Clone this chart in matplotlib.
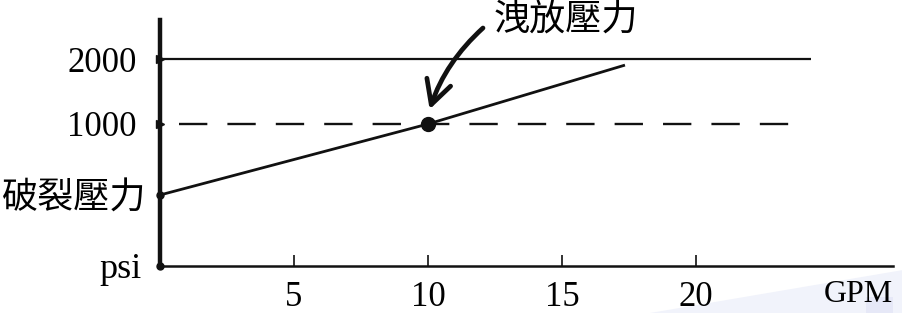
import numpy as np
import matplotlib
matplotlib.use("Agg")
import matplotlib.pyplot as plt
from matplotlib.patches import Polygon

# ---- data ----
flow_max = [0, 24.3]            # GPM extent of the max-pressure line
max_pressure = [2000, 2000]     # psi
flow_ref = [0.7, 24.0]          # GPM extent of the dashed 1000 psi line
ref_pressure = [1000, 1000]     # psi
flow_curve = [0, 10, 17.3]      # GPM
curve_pressure = [500, 1000, 1900]  # psi (cracking -> full flow)
relief_point = (10, 1000)
x_ticks = [5, 10, 15, 20]
y_ticks = [0, 500, 1000, 2000]
y_tick_labels = ["psi", "破裂壓力", "1000", "2000"]
y_marks = ["o", "o", ">", ">"]

# schematic (non-linear) pressure axis of the original drawing
psi_pts = [0, 1000, 2000, 3000]
disp_pts = [0, 142, 207, 272]

def fwd(y):
    return np.interp(y, psi_pts, disp_pts)

def inv(y):
    return np.interp(y, disp_pts, psi_pts)

W, H = 903, 313
fig = plt.figure(figsize=(W / 100, H / 100), dpi=100)
fig.patch.set_facecolor("white")

# faint watermark band in lower right corner
fig.patches.append(Polygon([[650 / W, 0], [1, 43 / H], [1, 0]], closed=True,
                           transform=fig.transFigure, facecolor="#f1f3fb",
                           edgecolor="none", zorder=-5))
fig.patches.append(Polygon([[866 / W, 0], [893 / W, 0], [893 / W, 16 / H], [866 / W, 16 / H]],
                           closed=True, transform=fig.transFigure, facecolor="#e6e8f7",
                           edgecolor="none", zorder=-5))

left, right, bottom_px, top_px = 160, 893, 266, 20
ax = fig.add_axes([left / W, (H - bottom_px) / H, (right - left) / W, (bottom_px - top_px) / H])
ax.patch.set_alpha(0)
ax.set_yscale("function", functions=(fwd, inv))
x_per_px = 1 / 26.8
ax.set_xlim(0, (right - left) * x_per_px)
ax.set_ylim(0, inv(bottom_px - top_px))

ink = "#111111"
ax.plot(flow_max, max_pressure, color=ink, lw=1.6, solid_capstyle="butt")
dl, = ax.plot(flow_ref, ref_pressure, color=ink, lw=1.7)
dl.set_dashes((12, 8.5))
ax.plot(flow_curve, curve_pressure, color=ink, lw=2.0)
ax.plot([relief_point[0]], [relief_point[1]], "o", color=ink, ms=10)

# small marks on the y axis
for yv, mk in zip(y_ticks, y_marks):
    ax.plot([0], [yv], mk, color=ink, ms=6 if mk == ">" else 5, clip_on=False, zorder=5)

for s in ["top", "right"]:
    ax.spines[s].set_visible(False)
ax.spines["left"].set_linewidth(3.2)
ax.spines["left"].set_color(ink)
ax.spines["bottom"].set_linewidth(1.8)
ax.spines["bottom"].set_color(ink)

ax.set_xticks(x_ticks)
ax.set_xticklabels([str(v) for v in x_ticks], family="Liberation Serif", fontsize=25)
ax.tick_params(axis="x", direction="in", length=8, width=1.2, color=ink, pad=11)

ax.set_yticks(y_ticks)
ax.set_yticklabels(y_tick_labels)
ax.yaxis.set_minor_locator(matplotlib.ticker.NullLocator())
ax.xaxis.set_minor_locator(matplotlib.ticker.NullLocator())
ax.tick_params(axis="y", length=0)
pads = [13, 10, 17, 17]
for tick, lab, p in zip(ax.yaxis.get_major_ticks(), y_tick_labels, pads):
    tick.set_pad(p)
    if lab == "破裂壓力":
        tick.label1.set_fontfamily(["Noto Sans CJK TC", "DejaVu Sans"])
        tick.label1.set_fontsize(26)
        tick.label1.set_fontweight("light")
    else:
        tick.label1.set_fontfamily("Liberation Serif")
        tick.label1.set_fontsize(25 if lab != "psi" else 26)

ax.text(1.0, -0.115, "GPM", transform=ax.transAxes, ha="right", va="center",
        family="Liberation Serif", fontsize=23)

fig.text(566 / W, 1 - 21 / H, "洩放壓力", ha="center", va="center",
         family=["Noto Sans CJK TC", "DejaVu Sans"], fontsize=26, fontweight="light")

ax.annotate("", xy=(9.9, 1000), xycoords="data",
            xytext=(483, H - 28), textcoords="figure pixels",
            arrowprops=dict(arrowstyle="->,head_length=0.85,head_width=0.45",
                            connectionstyle="arc3,rad=0.15", color=ink, lw=3.4,
                            mutation_scale=20, shrinkA=0, shrinkB=11))

fig.savefig("out.png", dpi=100)
